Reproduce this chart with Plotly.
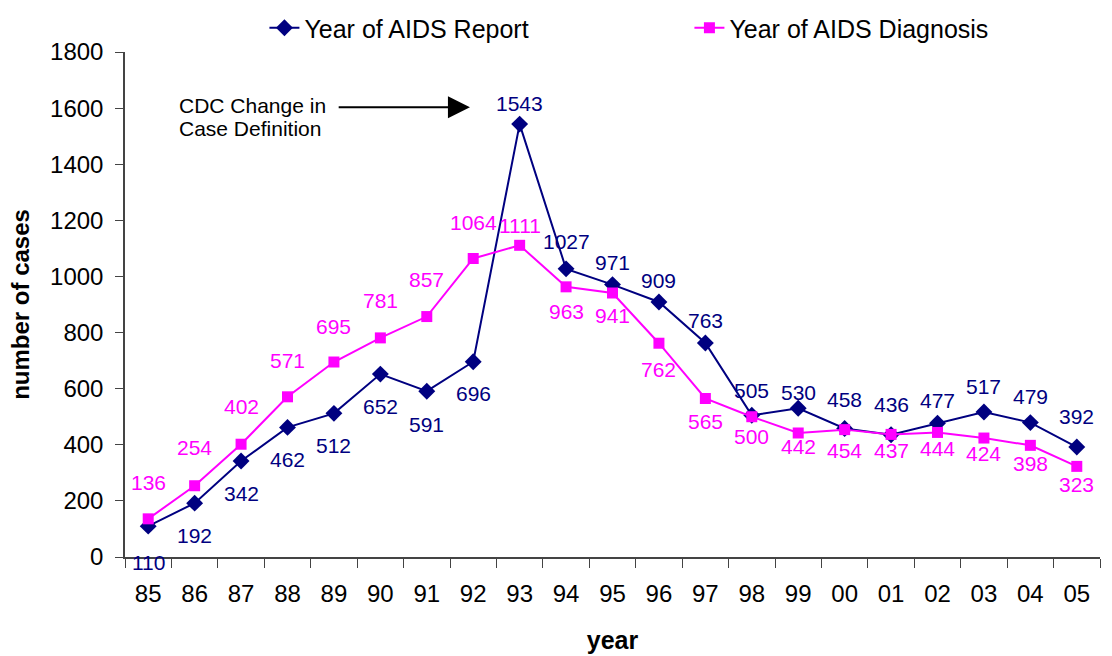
import plotly.graph_objects as go

years = ["85", "86", "87", "88", "89", "90", "91", "92", "93", "94", "95",
         "96", "97", "98", "99", "00", "01", "02", "03", "04", "05"]
report = [110, 192, 342, 462, 512, 652, 591, 696, 1543, 1027, 971,
          909, 763, 505, 530, 458, 436, 477, 517, 479, 392]
diagnosis = [136, 254, 402, 571, 695, 781, 857, 1064, 1111, 963, 941,
             762, 565, 500, 442, 454, 437, 444, 424, 398, 323]

# label vertical offsets in pixels (positive = up)
report_label_shift = [-36, -32, -32, -32, -32, -32, -33, -32, 21, 27, 22,
                      21, 22, 25, 16, 29, 30, 23, 25, 26, 31]
diag_label_shift = [36, 38, 38, 36, 36, 37, 37, 36, 20, -25, -22,
                    -26, -23, -20, -14, -21, -16, -16, -15, -18, -18]

BLUE = "#000080"
PINK = "#FF00FF"
FONT = "Liberation Sans, Arial, sans-serif"

fig = go.Figure()
fig.add_trace(go.Scatter(
    x=years, y=report, mode="lines+markers", name="Year of AIDS Report",
    line=dict(color=BLUE, width=2),
    marker=dict(symbol="diamond", size=13, color=BLUE),
))
fig.add_trace(go.Scatter(
    x=years, y=diagnosis, mode="lines+markers", name="Year of AIDS Diagnosis",
    line=dict(color=PINK, width=2),
    marker=dict(symbol="square", size=11, color=PINK),
))

annotations = []
for i, (v, s) in enumerate(zip(report, report_label_shift)):
    annotations.append(dict(x=i, y=v, text=str(v), showarrow=False,
                            yshift=s, xanchor="center", yanchor="middle",
                            font=dict(family=FONT, size=21, color=BLUE)))
for i, (v, s) in enumerate(zip(diagnosis, diag_label_shift)):
    annotations.append(dict(x=i, y=v, text=str(v), showarrow=False,
                            yshift=s, xanchor="center", yanchor="middle",
                            font=dict(family=FONT, size=21, color=PINK)))

# CDC annotation text (two lines) and arrow
annotations.append(dict(x=0.62, y=1610, xref="x", yref="y",
                        text="CDC Change in",
                        showarrow=False, xanchor="left", yanchor="middle",
                        font=dict(family=FONT, size=21, color="black")))
annotations.append(dict(x=0.62, y=1528, xref="x", yref="y",
                        text="Case Definition",
                        showarrow=False, xanchor="left", yanchor="middle",
                        font=dict(family=FONT, size=21, color="black")))
annotations.append(dict(x=6.93, y=1603, ax=4.07, ay=1603,
                        xref="x", yref="y", axref="x", ayref="y",
                        text="", showarrow=True, arrowhead=2, arrowsize=2.2,
                        arrowwidth=2, arrowcolor="black"))

fig.update_layout(
    width=1112, height=656,
    margin=dict(l=125, r=12, t=52, b=99, autoexpand=False),
    paper_bgcolor="white", plot_bgcolor="white",
    font=dict(family=FONT, size=24, color="black"),
    showlegend=True,
    legend=dict(orientation="h", x=0.143, xanchor="left", y=1.0475,
                yanchor="middle", font=dict(size=25),
                entrywidth=380, entrywidthmode="pixels",
                bgcolor="rgba(0,0,0,0)"),
    annotations=annotations,
    xaxis=dict(type="category", range=[-0.5, 20.5], showgrid=False, zeroline=False,
               showline=True, linecolor="#444", linewidth=1.5,
               ticks="outside", tickson="boundaries", ticklen=9,
               tickcolor="#444", tickfont=dict(size=24), tickangle=0,
               ticklabelstandoff=14, automargin=False,
               title=dict(text="<b>year</b>", font=dict(size=25), standoff=26)),
    yaxis=dict(range=[0, 1800], dtick=200, showgrid=False, zeroline=False,
               showline=True, linecolor="#444", linewidth=1.5,
               ticks="outside", ticklen=8, tickcolor="#444",
               tickfont=dict(size=24), ticklabelstandoff=7, automargin=False,
               title=dict(text="<b>number of cases</b>", font=dict(size=24), standoff=14)),
)

fig.write_html("out.html",
               config={"displayModeBar": False},
               post_script="document.body.style.margin='0';document.body.style.overflow='hidden';")
